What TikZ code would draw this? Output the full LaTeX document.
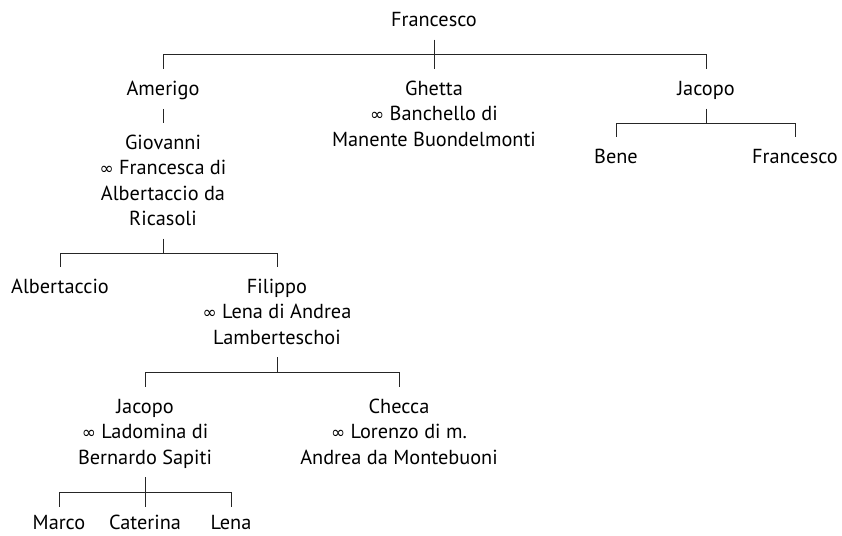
\documentclass[tikz,border=0pt]{standalone}
\usepackage{fontspec}
\setmainfont{PT Sans}
\newfontfamily\symfont{DejaVu Sans}
\newcommand\mystrut{\rule[-6.25pt]{0pt}{25.3pt}}
\newcommand\ml{\mystrut}
\newcommand\topstrut{\rule{0pt}{22pt}}
\newcommand\marr{{\symfont\fontsize{17}{25.3}\selectfont ∞}}
\tikzset{
  person/.style={align=center, inner xsep=0pt, inner ysep=7pt, font=\fontsize{20.3}{25.3}\selectfont, text=black},
  leaf/.style={person, inner ysep=0pt},
  link/.style={draw=black!85, line width=1pt}
}
\begin{document}
\begin{tikzpicture}[x=1pt,y=-1pt]
\useasboundingbox (0,0) rectangle (842,535);
% generation 1
\node[person] (fr) at (434,20) {\ml Francesco};
% generation 2
\node[person] (am) at (163,89) {\ml Amerigo};
\node[person] (gh) at (434,114.3) {\ml Ghetta\\\ml\marr{} Banchello di\\\ml Manente Buondelmonti};
\node[person] (ja) at (706,89) {\ml Jacopo};
% generation 3
\node[person] (gi) at (163,181) {\ml Giovanni\\\ml\marr{} Francesca di\\\ml Albertaccio da\\\ml Ricasoli};
\node[person] (be) at (616,157) {\ml Bene};
\node[person] (fr2) at (795,157) {\ml Francesco};
% generation 4
\node[person] (al) at (60,287) {\ml Albertaccio};
\node[person] (fi) at (277,312.3) {\ml Filippo\\\ml\marr{} Lena di Andrea\\\ml Lamberteschoi};
% generation 5
\node[person] (jb) at (145,432.3) {\ml Jacopo\\\ml\marr{} Ladomina di\\\ml Bernardo Sapiti};
\node[person] (ch) at (399,432.3) {\ml Checca\\\ml\marr{} Lorenzo di m.\\\ml Andrea da Montebuoni};
% generation 6
\node[leaf, anchor=base] (ma) at (59,529) {\topstrut Marco};
\node[leaf, anchor=base] (ca) at (145,529) {\topstrut Caterina};
\node[leaf, anchor=base] (le) at (231,529) {\topstrut Lena};
% connectors
\path[link] (fr.south) -- ++(0,15) -| (am.north);
\path[link] (fr.south) -- (gh.north);
\path[link] (fr.south) -- ++(0,15) -| (ja.north);
\path[link] (am.south) -- (gi.north);
\path[link] (ja.south) -- ++(0,15) -| (be.north);
\path[link] (ja.south) -- ++(0,15) -| (fr2.north);
\path[link] (gi.south) -- ++(0,15) -| (al.north);
\path[link] (gi.south) -- ++(0,15) -| (fi.north);
\path[link] (fi.south) -- ++(0,15) -| (jb.north);
\path[link] (fi.south) -- ++(0,15) -| (ch.north);
\path[link] (jb.south) -- ++(0,15) -| (ma.north);
\path[link] (jb.south) -- (ca.north);
\path[link] (jb.south) -- ++(0,15) -| (le.north);
\end{tikzpicture}
\end{document}
